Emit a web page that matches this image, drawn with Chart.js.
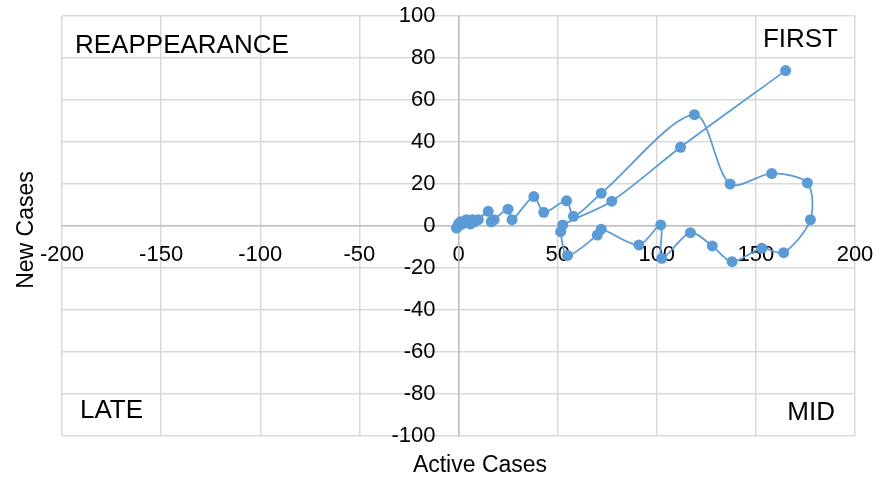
<!DOCTYPE html>
<html>
<head>
<meta charset="utf-8">
<script src="https://cdn.jsdelivr.net/npm/chart.js@4.4.1/dist/chart.umd.min.js"></script>
<style>
  html, body { margin: 0; padding: 0; background: #fff; }
  #wrap { width: 892px; height: 481px; position: relative; }
</style>
</head>
<body>
<div id="wrap"><canvas id="c" width="892" height="481"></canvas></div>
<script>
const activeCases = [0, -1, 0, 1, 2, 3, 4, 5, 6, 7, 8, 10, 15, 16.5, 18, 25, 27, 38, 43, 54.5, 58, 72, 119, 137, 158, 176, 177.5, 164, 153, 138, 128, 117, 102.5, 102, 91, 72, 70, 55, 51.5, 52.6, 77.3, 112, 165];
const newCases    = [0, -1, 1, 2, 1, 2, 3, 2, 1, 3, 2, 3, 7, 2, 3, 8, 3, 14, 6.5, 12, 4.6, 15.6, 53, 20, 25, 20.5, 3, -12.7, -10.6, -17, -9.5, -3.2, -15.4, 0.5, -9, -1.5, -4.3, -14, -2.7, 0.5, 11.8, 37.5, 74];
const xTicks = [-200, -150, -100, -50, 0, 50, 100, 150, 200];
const yTicks = [-100, -80, -60, -40, -20, 0, 20, 40, 60, 80, 100];
const quadrantLabels = ["REAPPEARANCE", "FIRST", "LATE", "MID"];
const xTitle = "Active Cases";
const yTitle = "New Cases";

const points = activeCases.map((x, i) => ({ x: x, y: newCases[i] }));
const FONT = "'Liberation Sans', Arial, sans-serif";

const textPlugin = {
  id: 'texts',
  afterDraw(chart) {
    const ctx = chart.ctx;
    ctx.save();
    ctx.fillStyle = '#000';
    ctx.textBaseline = 'alphabetic';
    ctx.font = "26px " + FONT;
    ctx.textAlign = 'left';
    ctx.fillText(quadrantLabels[0], 75, 53);
    ctx.fillText(quadrantLabels[2], 80, 418);
    ctx.textAlign = 'right';
    ctx.fillText(quadrantLabels[1], 838, 47);
    ctx.fillText(quadrantLabels[3], 835, 420);
    ctx.font = "23px " + FONT;
    ctx.textAlign = 'center';
    ctx.fillText(xTitle, 480, 472);
    ctx.translate(33, 230);
    ctx.rotate(-Math.PI / 2);
    ctx.fillText(yTitle, 0, 0);
    ctx.restore();
  }
};

function shiftYLabels(s) {
  s.width = 0;
  s.paddingTop = 0;
  s.paddingBottom = 0;
  if (!s._patched) {
    const orig = s.drawLabels.bind(s);
    s.drawLabels = function (area) {
      const ctx = this.ctx;
      ctx.save();
      ctx.translate(-23, 0);
      orig(area);
      ctx.restore();
    };
    s._patched = true;
  }
}

new Chart(document.getElementById('c'), {
  type: 'scatter',
  data: {
    datasets: [{
      data: points,
      showLine: true,
      tension: 0.3,
      borderColor: '#5B9BD5',
      backgroundColor: '#5B9BD5',
      borderWidth: 1.75,
      pointRadius: 5.5,
      pointHoverRadius: 5.5,
      pointBorderWidth: 0
    }]
  },
  options: {
    responsive: false,
    animation: false,
    events: [],
    layout: { padding: { left: 62, right: 37, top: 16, bottom: 45 } },
    plugins: { legend: { display: false }, tooltip: { enabled: false } },
    scales: {
      x: {
        type: 'linear',
        min: -200, max: 200,
        position: { y: 0 },
        afterFit: (s) => { s.height = 0; s.paddingLeft = 0; s.paddingRight = 0; },
        afterBuildTicks: (s) => { s.ticks = xTicks.map(v => ({ value: v })); },
        grid: { color: '#d9d9d9', lineWidth: 1.5, drawTicks: false },
        border: { display: true, color: '#bfbfbf', width: 1.5 },
        ticks: { color: '#000', font: { family: FONT, size: 22 }, padding: 16, maxRotation: 0, autoSkip: false }
      },
      y: {
        type: 'linear',
        min: -100, max: 100,
        position: { x: 0 },
        afterFit: shiftYLabels,
        afterBuildTicks: (s) => { s.ticks = yTicks.map(v => ({ value: v })); },
        grid: { color: '#d9d9d9', lineWidth: 1.5, drawTicks: false },
        border: { display: true, color: '#bfbfbf', width: 1.5 },
        ticks: { color: '#000', font: { family: FONT, size: 22 }, padding: 0, autoSkip: false }
      }
    }
  },
  plugins: [textPlugin]
});
</script>
</body>
</html>
